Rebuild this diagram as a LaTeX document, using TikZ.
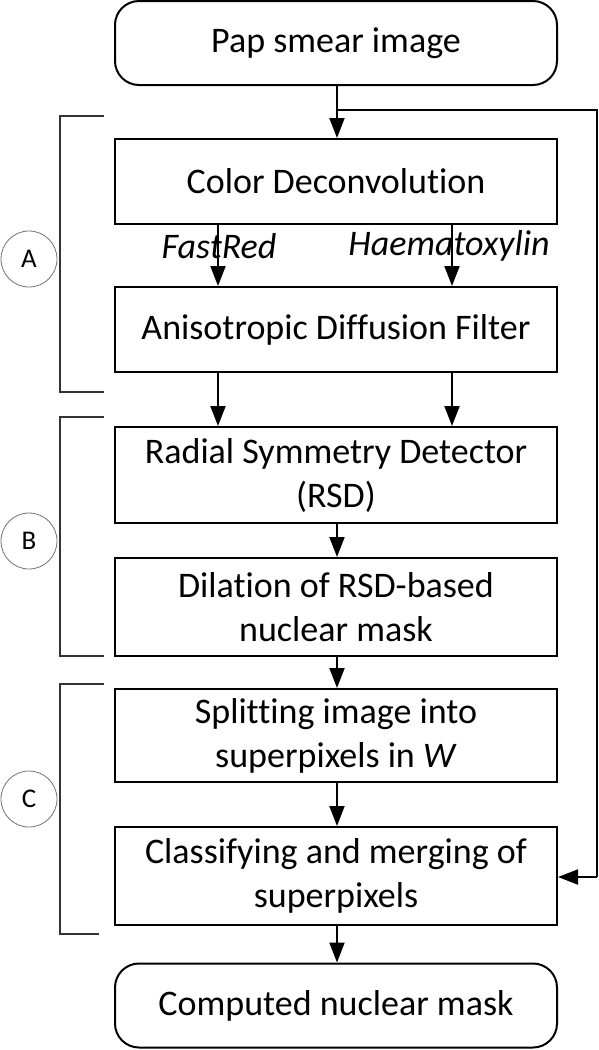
\documentclass[tikz,border=0pt]{standalone}
\usepackage{fontspec}
\setmainfont{Carlito}[Ligatures={NoCommon}]
\usetikzlibrary{arrows.meta}
\begin{document}
\begin{tikzpicture}[x=1pt,y=-1pt,
  box/.style={draw, line width=2pt, minimum width=442pt, inner sep=0pt, align=center, font=\fontsize{36}{44}\selectfont},
  term/.style={box, rounded corners=24pt, minimum height=84pt},
  arr/.style={line width=2pt, -{Triangle[length=20pt,width=15pt]}},
  brk/.style={line width=1.2pt, draw=black!80},
  lab/.style={circle, draw=black!55, line width=0.8pt, minimum size=56pt, inner sep=0pt, font=\fontsize{27}{30}\selectfont},
  stain/.style={font=\fontsize{36}{40}\selectfont\itshape}]
\useasboundingbox (0,0) rectangle (598,1050);
\node[term] (pap) at (336,43) {Pap smear image};
\node[box, minimum height=85pt] (cd) at (336,181.5) {Color Deconvolution};
\node[box, minimum height=85pt] (adf) at (336,329.5) {Anisotropic Diffusion Filter};
\node[box, minimum height=96pt] (rsd) at (336,475) {Radial Symmetry Detector\\(RSD)};
\node[box, minimum height=98pt] (dil) at (336,607) {Dilation of RSD-based\\nuclear mask};
\node[box, minimum height=93pt] (spl) at (336,735.5) {Splitting image into\\superpixels in \textit{W}};
\node[box, minimum height=98pt] (cls) at (336,876) {Classifying and merging of\\superpixels};
\node[term] (out) at (336,1005.5) {Computed nuclear mask};

\node[stain] (fr) at (219,246) {FastRed};
\node[stain] (hm) at (449,246) {Haematoxylin};

\coordinate (s) at (337,110);
\coordinate (r1) at (596.5,110);
\coordinate (r2) at (596.5,877);
\draw[arr] (pap.south -| s) -- (cd.north -| s);
\draw[line width=2pt] (s) -- (r1) -- (r2);
\draw[arr] (r2) -- (cls.east |- r2);

\draw[arr] (cd.south -| 218,0) -- (adf.north -| 218,0);
\draw[arr] (cd.south -| 452,0) -- (adf.north -| 452,0);
\draw[arr] (adf.south -| 218,0) -- (rsd.north -| 218,0);
\draw[arr] (adf.south -| 452,0) -- (rsd.north -| 452,0);
\draw[arr] (rsd.south -| s) -- (dil.north -| s);
\draw[arr] (dil.south -| s) -- (spl.north -| s);
\draw[arr] (spl.south -| s) -- (cls.north -| s);
\draw[arr] (cls.south -| s) -- (out.north -| s);

\draw[brk] (104,116) -- (60,116) -- (60,392) -- (104,392);
\draw[brk] (104,417) -- (60,417) -- (60,656) -- (104,656);
\draw[brk] (104,684) -- (60,684) -- (60,934) -- (99,934);
\node[lab] (a) at (29,259) {A};
\node[lab] (b) at (29,541) {B};
\node[lab] (c) at (29,799) {C};
\end{tikzpicture}
\end{document}
